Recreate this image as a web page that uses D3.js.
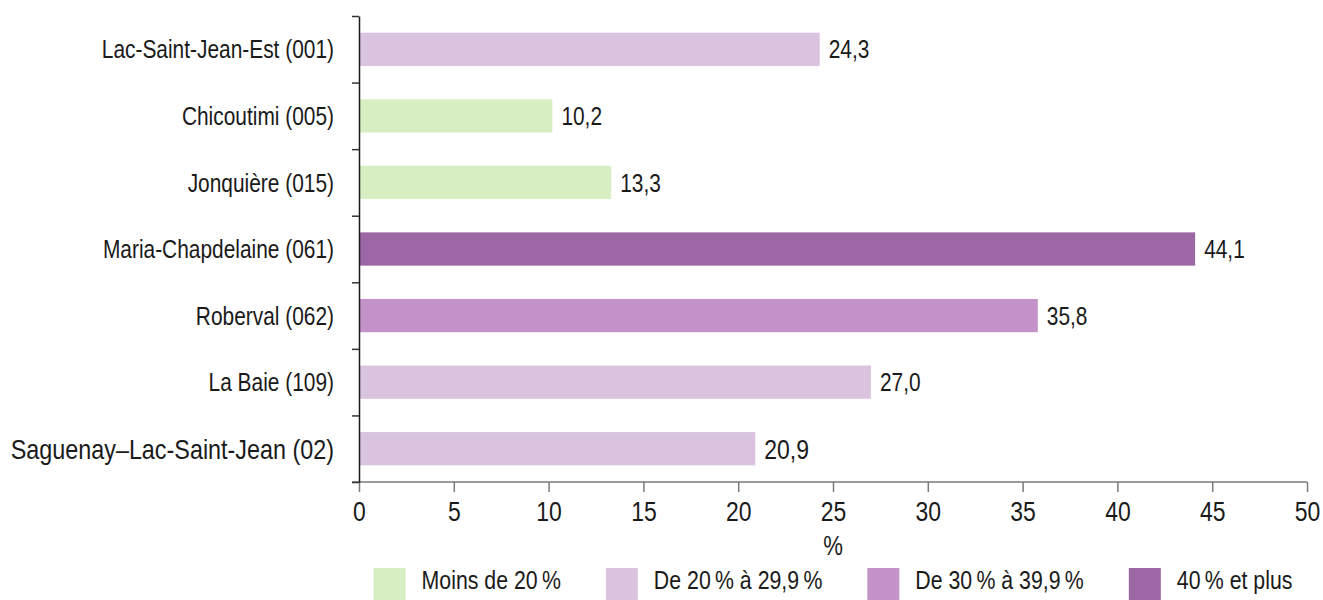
<!DOCTYPE html>
<html>
<head>
<meta charset="utf-8">
<script src="https://cdn.jsdelivr.net/npm/d3@7"></script>
<style>
  body { margin: 0; background: #fff; }
  text { font-family: "Liberation Sans", Arial, sans-serif; fill: #1a1a1a; }
</style>
</head>
<body>
<div id="chart"></div>
<script>
const categories = [
  "Lac-Saint-Jean-Est (001)",
  "Chicoutimi (005)",
  "Jonquière (015)",
  "Maria-Chapdelaine (061)",
  "Roberval (062)",
  "La Baie (109)",
  "Saguenay–Lac-Saint-Jean (02)"
];
const values = [24.3, 10.2, 13.3, 44.1, 35.8, 27.0, 20.9];
const xTicks = [0, 5, 10, 15, 20, 25, 30, 35, 40, 45, 50];
const thresholds = [20, 30, 40];
const classColors = ["#d7eec3", "#dac3df", "#c292c8", "#9d67a6"];
const legendLabels = ["Moins de 20\u202F%", "De 20\u202F% à 29,9\u202F%", "De 30\u202F% à 39,9\u202F%", "40\u202F% et plus"];

// no narrow font installed: squeeze Liberation Sans horizontally
const SX = 0.82;
function narrow(sel) {
  sel.attr("transform", function () {
    const x = +this.getAttribute("x") || 0;
    const y = +this.getAttribute("y") || 0;
    return `translate(${x},${y}) scale(${SX},1) translate(${-x},${-y})`;
  });
}

function draw() {
  const width = 1323, height = 600;
  const margin = { left: 359, right: 16, top: 16, bottom: 118 };

  const svg = d3.select("#chart").append("svg")
    .attr("width", width)
    .attr("height", height);

  const fr = d3.formatLocale({ decimal: ",", thousands: "\u00a0", grouping: [3], currency: ["", " $"] });
  const fmt = fr.format(".1f");

  const xScale = d3.scaleLinear()
    .domain([0, 50])
    .range([margin.left, width - margin.right]);

  const yScale = d3.scaleBand()
    .domain(categories)
    .range([margin.top, height - margin.bottom])
    .paddingInner(0.5)
    .paddingOuter(0.25);

  // boundaries between categories, for the y ticks
  const yEdge = d3.scaleLinear()
    .domain([0, categories.length])
    .range([margin.top, height - margin.bottom]);

  const color = d3.scaleThreshold().domain(thresholds).range(classColors);

  const data = categories.map((c, i) => ({ cat: c, value: values[i], last: i === categories.length - 1 }));

  // bars
  svg.append("g").selectAll("rect")
    .data(data)
    .join("rect")
    .attr("x", xScale(0))
    .attr("y", d => yScale(d.cat))
    .attr("width", d => xScale(d.value) - xScale(0))
    .attr("height", yScale.bandwidth())
    .attr("fill", d => color(d.value));

  // value labels
  svg.append("g").selectAll("text")
    .data(data)
    .join("text")
    .attr("x", d => xScale(d.value) + 9)
    .attr("y", d => yScale(d.cat) + yScale.bandwidth() / 2)
    .attr("dy", "0.36em")
    .style("font-size", d => d.last ? "28px" : "25.5px")
    .text(d => fmt(d.value))
    .call(narrow);

  // category labels
  svg.append("g").selectAll("text")
    .data(data)
    .join("text")
    .attr("x", margin.left - 25)
    .attr("y", d => yScale(d.cat) + yScale.bandwidth() / 2)
    .attr("dy", "0.36em")
    .attr("text-anchor", "end")
    .style("font-size", d => d.last ? "28.5px" : "25.5px")
    .text(d => d.cat)
    .call(narrow);

  // x axis
  const xAxis = svg.append("g")
    .attr("transform", `translate(0,${height - margin.bottom})`)
    .call(d3.axisBottom(xScale).tickValues(xTicks).tickSize(10).tickSizeOuter(0).tickPadding(9));
  xAxis.attr("font-family", null).attr("font-size", null);
  xAxis.select(".domain").remove();
  xAxis.append("line")
    .attr("x1", margin.left - 7).attr("x2", xScale(50))
    .attr("stroke", "#7a7a7a").attr("stroke-width", 1.5);
  xAxis.selectAll(".tick line").attr("stroke", "#7a7a7a").attr("stroke-width", 1.5);
  xAxis.selectAll(".tick text")
    .attr("fill", "#1a1a1a")
    .style("font-size", "28px")
    .attr("transform", `scale(${SX},1)`);

  svg.append("text")
    .attr("x", (xScale(0) + xScale(50)) / 2)
    .attr("y", height - margin.bottom + 73)
    .attr("text-anchor", "middle")
    .style("font-size", "27px")
    .text("%")
    .call(narrow);

  // y axis
  const yAxis = svg.append("g")
    .attr("transform", `translate(${margin.left},0)`)
    .call(d3.axisLeft(yEdge).ticks(categories.length).tickFormat("").tickSize(7).tickSizeOuter(0));
  yAxis.select(".domain").attr("stroke", "#1a1a1a").attr("stroke-width", 1.5);
  yAxis.selectAll(".tick line").attr("stroke", "#333").attr("stroke-width", 1.5);

  // legend
  const legend = svg.append("g");
  let lx = 0;
  legendLabels.forEach((lab, i) => {
    const item = legend.append("g").attr("transform", `translate(${lx},0)`);
    item.append("rect")
      .attr("x", 0).attr("y", 568)
      .attr("width", 32).attr("height", 32)
      .attr("fill", classColors[i]);
    const t = item.append("text")
      .attr("x", 48).attr("y", 589)
      .style("font-size", "26px")
      .text(lab)
      .call(narrow);
    lx += 48 + t.node().getComputedTextLength() * SX + 45;
  });
  const legendW = lx - 45;
  legend.attr("transform", `translate(${(xScale(0) + xScale(50)) / 2 - legendW / 2},0)`);
}

draw();
</script>
</body>
</html>
